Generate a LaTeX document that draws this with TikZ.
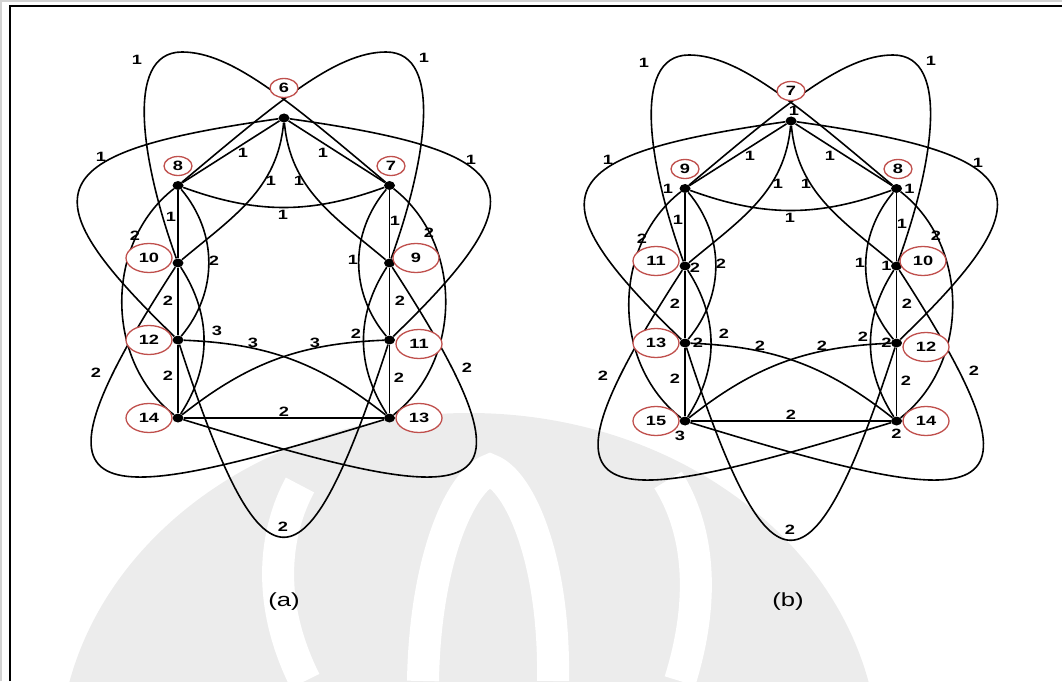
\documentclass[tikz,border=0pt]{standalone}
\usepackage{fontspec}
\setmainfont{Liberation Sans}
\newfontfamily\wtfamily{Liberation Sans}[FakeStretch=1.35]
\usetikzlibrary{shapes.geometric,positioning}
\definecolor{nodered}{HTML}{C0504D}

\tikzset{
  vtx/.style={ellipse, fill=black, inner sep=0pt, minimum width=11pt, minimum height=9pt},
  numbig/.style={ellipse, draw=nodered, fill=white, line width=1.3pt, inner sep=0pt,
    minimum width=46pt, minimum height=29pt, font=\wtfamily\bfseries\fontsize{13.5}{15}\selectfont},
  numsmall/.style={numbig, minimum width=28pt, minimum height=19pt},
  wt/.style={font=\wtfamily\bfseries\fontsize{13.5}{15}\selectfont, inner sep=0pt},
  edge/.style={line width=1.6pt},
  caption/.style={font=\wtfamily\fontsize{19}{22}\selectfont},
  band/.style={white, line width=32pt},
}

% store the 27 edge weights of one panel
\newcommand{\setweights}[1]{%
  \foreach \w [count=\i] in {#1}{\expandafter\xdef\csname wgt\i\endcsname{\w}}}

% one panel: #1 prefix, #2 position of the top vertex, #3 first number, #4 weights
\newcommand{\drawpanel}[4]{%
  \setweights{#4}
  \begin{scope}[shift={#2}]
    % Vertici
    \node[vtx] (#1T)  at (0,0) {};
    \node[vtx] (#1UL) at (-106,-67.5) {};
    \node[vtx] (#1UR) at (105.5,-67.5) {};
    \node[vtx] (#1ML) at (-106,-145) {};
    \node[vtx] (#1MR) at (105.5,-145) {};
    \node[vtx] (#1LL) at (-106,-222) {};
    \node[vtx] (#1LR) at (105.5,-222) {};
    \node[vtx] (#1BL) at (-106,-300) {};
    \node[vtx] (#1BR) at (105.5,-300) {};
    \coordinate (#1pL) at (-102,66);
    \coordinate (#1pR) at (102,66);

    % Archi in alto
    \draw[edge] (#1T) -- (#1UL);
    \draw[edge] (#1T) -- (#1UR);
    \draw[edge] (#1UL) to[bend right=20] (#1UR);
    \draw[edge] (#1T) to[out=-95,in=40] (#1ML);
    \draw[edge] (#1T) to[out=-85,in=140] (#1MR);
    \draw[edge] (#1UL) .. controls +(40:130) and +(180:50) .. (#1pR)
                       .. controls +(0:60) and +(70:100) .. (#1MR);
    \draw[edge] (#1UR) .. controls +(140:130) and +(0:50) .. (#1pL)
                       .. controls +(180:60) and +(110:100) .. (#1ML);
    \draw[edge] (#1T) .. controls +(188:245) and +(136:215) .. (#1LL);
    \draw[edge] (#1T) .. controls +(-8:245) and +(44:215) .. (#1LR);

    % Colonne
    \draw[edge] (#1UL) -- (#1ML);
    \draw[edge] (#1ML) -- (#1LL);
    \draw[edge] (#1LL) -- (#1BL);
    \draw[edge] (#1UR) -- (#1MR);
    \draw[edge] (#1MR) -- (#1LR);
    \draw[edge] (#1LR) -- (#1BR);
    \draw[edge] (#1BL) -- (#1BR);
    \draw[edge] (#1UL) to[bend right=52] (#1BL);
    \draw[edge] (#1UR) to[bend left=52] (#1BR);
    \draw[edge] (#1UL) to[bend left=40] (#1LL);
    \draw[edge] (#1UR) to[bend right=40] (#1LR);
    \draw[edge] (#1ML) to[bend left=33] (#1BL);
    \draw[edge] (#1MR) to[bend right=33] (#1BR);

    % Archi in basso
    \draw[edge] (#1LL) to[bend left=18] (#1BR);
    \draw[edge] (#1LR) to[bend right=18] (#1BL);
    \draw[edge] (#1ML) .. controls +(237:300) and +(197:320) .. (#1BR);
    \draw[edge] (#1MR) .. controls +(-57:300) and +(-17:320) .. (#1BL);
    \draw[edge] (#1LL) .. controls +(-72:275) and +(-108:275) .. (#1LR);

    % Etichette dei vertici
    \node[numsmall] (#1nT)  at (0,30) {#3};
    \node[numsmall] (#1nUR) at (107,-48) {\the\numexpr#3+1\relax};
    \node[numsmall] (#1nUL) at (-106,-48) {\the\numexpr#3+2\relax};
    \node[numbig] (#1nMR) at (132,-140) {\the\numexpr#3+3\relax};
    \node[numbig] (#1nML) at (-135,-140) {\the\numexpr#3+4\relax};
    \node[numbig] (#1nLR) at (135,-226) {\the\numexpr#3+5\relax};
    \node[numbig] (#1nLL) at (-135,-222) {\the\numexpr#3+6\relax};
    \node[numbig] (#1nBR) at (135,-300) {\the\numexpr#3+7\relax};
    \node[numbig] (#1nBL) at (-135,-300) {\the\numexpr#3+8\relax};

    % Pesi degli archi
    \foreach \x/\y [count=\i] in {-147/58, 140/60, -183/-39, 187/-42, -41/-35, 39/-35,
        -13/-63, 15/-63, -1/-97, -113/-99, 111/-103, -149/-118, 145/-115, -70/-143,
        69/-142, -116/-183, 116/-183, -67/-213, 72/-216, -31/-225, 31/-225,
        -116/-258, 115/-260, -188/-255, 183/-250, 0/-294, -1/-409}
      \node[wt] (#1w\i) at (\x,\y) {\csname wgt\i\endcsname};
  \end{scope}}

\begin{document}
\begin{tikzpicture}[x=1pt,y=1pt]
  \useasboundingbox (0,0) rectangle (1062,681);

  % Filigrana
  \begin{scope}
    \clip (0,0) rectangle (1062,681);
    \fill[gray!15] (469,-79) ellipse [x radius=410, y radius=347];
    \draw[band] (300,196) .. controls (275,150) and (265,80) .. (305,0);
    \draw[band] (668,201) .. controls (700,150) and (705,80) .. (680,0);
    \draw[band] (423,0) .. controls (425,120) and (460,200) .. (490,211)
                        .. controls (520,200) and (555,120) .. (553,0);
  \end{scope}

  % Cornice
  \draw[gray!35, line width=1.5pt] (1,0) -- (1,680) -- (1062,680);
  \draw[line width=2pt] (10,0) -- (10,675) -- (1062,675);

  % Grafo (a)
  \drawpanel{a}{(284,563)}{6}{1,1,1,1,1,1,1,1,1,1,1,2,2,2,1,2,2,3,2,3,3,2,2,2,2,2,2}
  \node[caption] (capa) at (284,79) {(a)};

  % Grafo (b)
  \drawpanel{b}{(791,560)}{7}{1,1,1,1,1,1,1,1,1,1,1,2,2,2,1,2,2,2,2,2,2,2,2,2,2,2,2}
  \node[caption] (capb) at (788,79) {(b)};

  % Pesi dei vertici in (b)
  \node[wt] (bxT)  at ([shift={(3,10)}]bT) {1};
  \node[wt] (bxUL) at ([shift={(-17,0)}]bUL) {1};
  \node[wt] (bxUR) at ([shift={(13,0)}]bUR) {1};
  \node[wt] (bxML) at ([shift={(10,-2)}]bML) {2};
  \node[wt] (bxMR) at ([shift={(-10,0)}]bMR) {1};
  \node[wt] (bxLL) at ([shift={(13,0)}]bLL) {2};
  \node[wt] (bxLR) at ([shift={(-10,0)}]bLR) {2};
  \node[wt] (bxBL) at ([shift={(-5,-15)}]bBL) {3};
  \node[wt] (bxBR) at ([shift={(0,-13)}]bBR) {2};
\end{tikzpicture}
\end{document}
